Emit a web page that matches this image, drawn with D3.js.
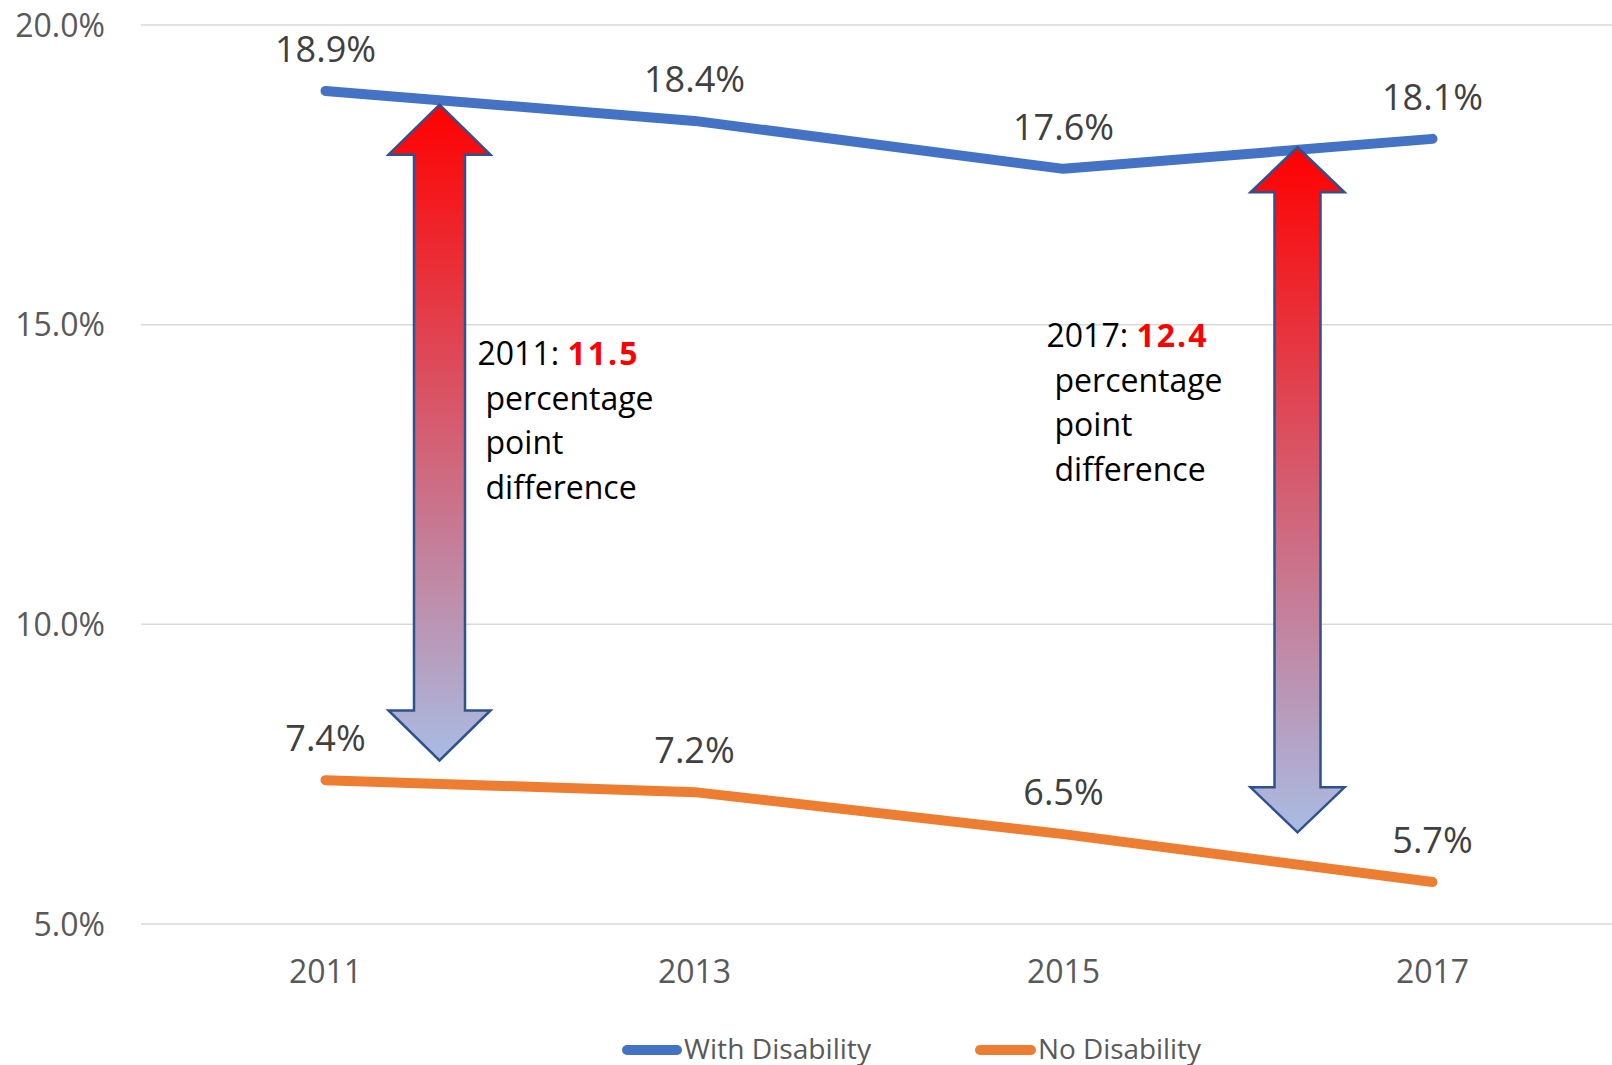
<!DOCTYPE html>
<html>
<head>
<meta charset="utf-8">
<script src="https://cdn.jsdelivr.net/npm/d3@7"></script>
<style>
  body { margin: 0; background: #ffffff; }
  svg { display: block; font-family: 'Open Sans', 'Noto Sans', sans-serif; }
</style>
</head>
<body>
<svg id="chart"></svg>
<script>
// Chart data
const years = ['2011', '2013', '2015', '2017'];
const withDisability = [18.9, 18.4, 17.6, 18.1];
const noDisability = [7.4, 7.2, 6.5, 5.7];
const yTicks = [5, 10, 15, 20];
const seriesNames = ['With Disability', 'No Disability'];
const seriesColors = ['#4472C4', '#ED7D31'];

// Gap annotations (percentage point difference)
const gapYears = ['2011', '2017'];
const gapValues = [11.5, 12.4];

const width = 1612;
const height = 1065;

const svg = d3.select('#chart')
  .attr('width', width)
  .attr('height', height);

// Scales
const xScale = d3.scaleBand()
  .domain(years)
  .range([141, 1617])
  .padding(0);

const yScale = d3.scaleLinear()
  .domain([5, 20])
  .range([924, 25]);

const xc = (year) => xScale(year) + xScale.bandwidth() / 2;

// Gridlines
svg.append('g')
  .selectAll('line')
  .data(yTicks)
  .enter()
  .append('line')
  .attr('x1', 141)
  .attr('x2', width)
  .attr('y1', (d) => yScale(d))
  .attr('y2', (d) => yScale(d))
  .attr('stroke', '#d9d9d9')
  .attr('stroke-width', 1.5);

// Y axis labels
const yAxis = svg.append('g')
  .attr('transform', 'translate(105,0)')
  .call(d3.axisLeft(yScale).tickValues(yTicks).tickFormat((d) => d.toFixed(1) + '%').tickSize(0).tickPadding(0));
yAxis.select('.domain').remove();
yAxis.selectAll('text')
  .attr('font-size', 32)
  .attr('font-family', "'Open Sans', sans-serif")
  .attr('fill', '#595959')
  .attr('dy', '0.35em');

// X axis labels
const xAxis = svg.append('g')
  .attr('transform', 'translate(0,983)')
  .call(d3.axisBottom(xScale).tickSize(0).tickPadding(0));
xAxis.select('.domain').remove();
xAxis.selectAll('text')
  .attr('font-size', 32)
  .attr('font-family', "'Open Sans', sans-serif")
  .attr('fill', '#595959')
  .attr('dy', 0);

// Lines
const series = [withDisability, noDisability];
const line = d3.line()
  .x((d, i) => xc(years[i]))
  .y((d) => yScale(d));

svg.append('g')
  .selectAll('path')
  .data(series)
  .enter()
  .append('path')
  .attr('d', (d) => line(d))
  .attr('fill', 'none')
  .attr('stroke', (d, i) => seriesColors[i])
  .attr('stroke-width', 10)
  .attr('stroke-linecap', 'round')
  .attr('stroke-linejoin', 'round');

// Data labels
series.forEach((values) => {
  svg.append('g')
    .selectAll('text')
    .data(values)
    .enter()
    .append('text')
    .attr('x', (d, i) => xc(years[i]))
    .attr('y', (d) => yScale(d) - 29)
    .attr('text-anchor', 'middle')
    .attr('font-size', 36)
    .attr('fill', '#404040')
    .text((d) => d.toFixed(1) + '%');
});

// Gradient for the arrows
const defs = svg.append('defs');
const grad = defs.append('linearGradient')
  .attr('id', 'arrowGrad')
  .attr('x1', 0).attr('y1', 0)
  .attr('x2', 0).attr('y2', 1);
grad.append('stop').attr('offset', '0%').attr('stop-color', '#FF0000');
grad.append('stop').attr('offset', '100%').attr('stop-color', '#A9BCE3');

// Double arrows between the two series
const arrows = [
  { year: '2011', top: 18.67, bottom: 7.73, dx: 114, shaft: 25.5, head: 51, headLen: 50 },
  { year: '2017', top: 17.96, bottom: 6.53, dx: -135, shaft: 23, head: 47, headLen: 45 },
];

const arrowPath = (a) => {
  const cx = xc(a.year) + a.dx;
  const y0 = yScale(a.top);
  const y1 = yScale(a.bottom);
  const p = d3.path();
  p.moveTo(cx, y0);
  p.lineTo(cx + a.head, y0 + a.headLen);
  p.lineTo(cx + a.shaft, y0 + a.headLen);
  p.lineTo(cx + a.shaft, y1 - a.headLen);
  p.lineTo(cx + a.head, y1 - a.headLen);
  p.lineTo(cx, y1);
  p.lineTo(cx - a.head, y1 - a.headLen);
  p.lineTo(cx - a.shaft, y1 - a.headLen);
  p.lineTo(cx - a.shaft, y0 + a.headLen);
  p.lineTo(cx - a.head, y0 + a.headLen);
  p.closePath();
  return p.toString();
};

svg.append('g')
  .selectAll('path')
  .data(arrows)
  .enter()
  .append('path')
  .attr('d', arrowPath)
  .attr('fill', 'url(#arrowGrad)')
  .attr('stroke', '#2F528F')
  .attr('stroke-width', 2.5)
  .attr('stroke-linejoin', 'miter');

// Annotation texts
const notes = [
  { dx: 152, y: 365 },
  { dx: -386, y: 347 },
];
const noteLines = ['percentage', 'point', 'difference'];

gapYears.forEach((yr, i) => {
  const x = xc(yr) + notes[i].dx;
  const g = svg.append('g')
    .attr('font-size', 32)
    .attr('fill', '#000000');
  const first = g.append('text')
    .attr('x', x)
    .attr('y', notes[i].y);
  first.append('tspan').text(yr + ': ');
  first.append('tspan')
    .attr('font-weight', 'bold')
    .attr('fill', '#FF0000')
    .attr('letter-spacing', 2)
    .text(gapValues[i]);
  g.selectAll('.line')
    .data(noteLines)
    .enter()
    .append('text')
    .attr('class', 'line')
    .attr('x', x + 8)
    .attr('y', (d, j) => notes[i].y + 44.7 * (j + 1))
    .text((d) => d);
});

// Legend
const legendItems = [
  { x: 627, len: 50, textX: 684, textLen: 187 },
  { x: 980, len: 51, textX: 1038, textLen: 163 },
];
const legend = svg.append('g');
seriesNames.forEach((name, i) => {
  const it = legendItems[i];
  legend.append('line')
    .attr('x1', it.x)
    .attr('x2', it.x + it.len)
    .attr('y1', 1050)
    .attr('y2', 1050)
    .attr('stroke', seriesColors[i])
    .attr('stroke-width', 10)
    .attr('stroke-linecap', 'round');
  legend.append('text')
    .attr('x', it.textX)
    .attr('y', 1059)
    .attr('font-size', 28)
    .attr('fill', '#595959')
    .attr('textLength', it.textLen)
    .attr('lengthAdjust', 'spacingAndGlyphs')
    .text(name);
});
</script>
</body>
</html>
